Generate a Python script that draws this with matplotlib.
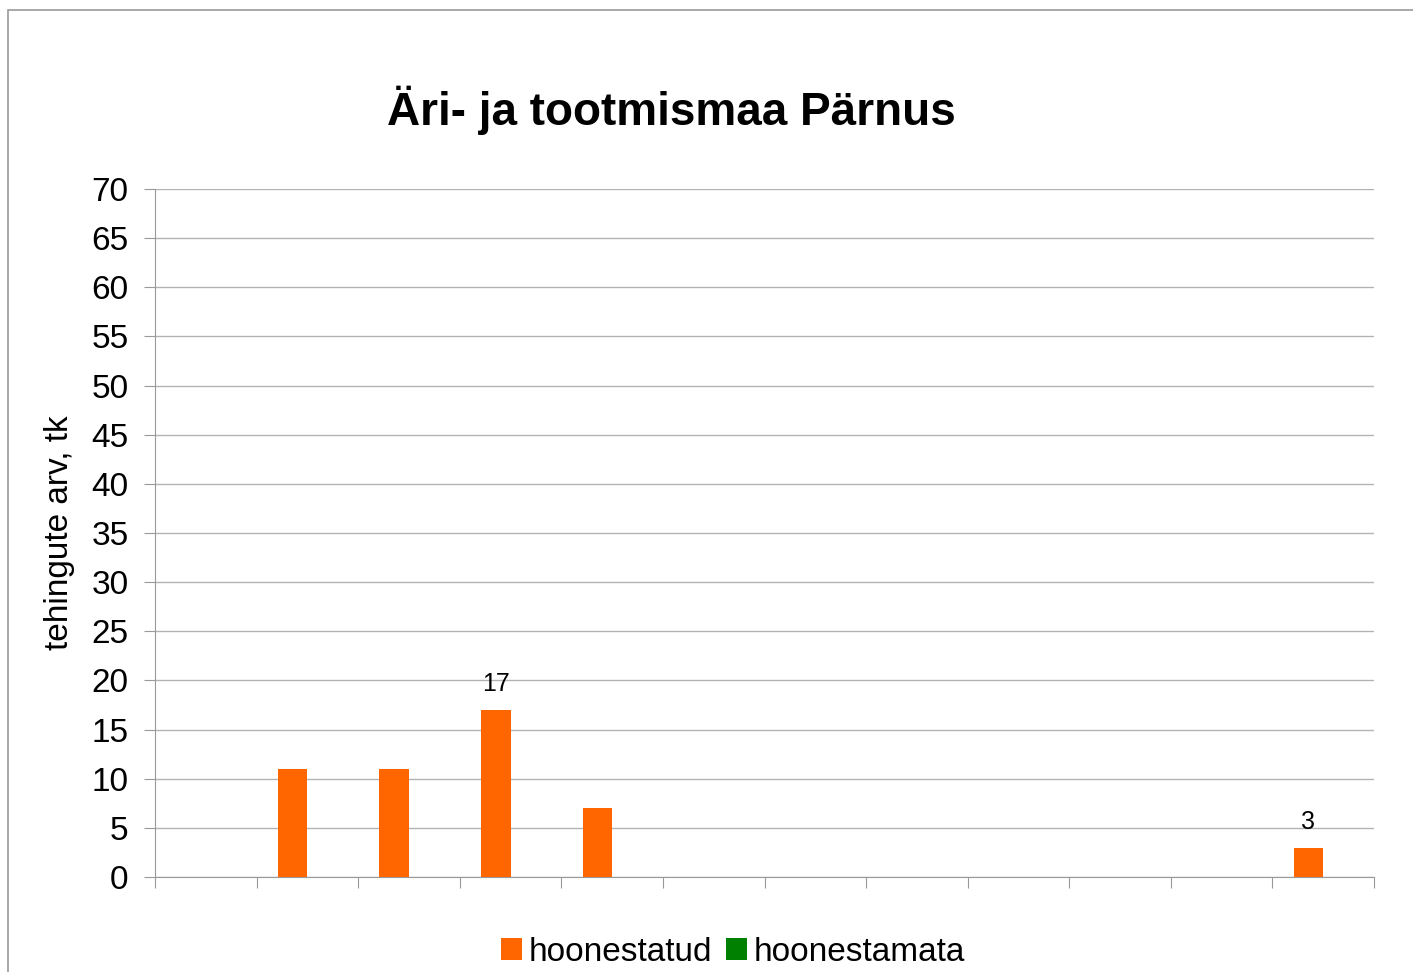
import matplotlib
matplotlib.use("Agg")
import matplotlib.pyplot as plt
import numpy as np
from matplotlib.patches import Rectangle

plt.rcParams['font.family'] = ['Liberation Sans', 'DejaVu Sans']

title = "Äri- ja tootmismaa Pärnus"
ylabel = "tehingute arv, tk"
categories = [str(i) for i in range(1, 13)]
series_names = ["hoonestatud", "hoonestamata"]
hoonestatud = [0, 11, 11, 17, 7, 0, 0, 0, 0, 0, 0, 3]
hoonestamata = [0, 0, 0, 0, 0, 0, 0, 0, 0, 0, 0, 0]
labeled = {3: "17", 11: "3"}
colors = ["#FF6600", "#008000"]

fig = plt.figure(figsize=(14.13, 9.72), dpi=100)
fig.patches.append(Rectangle((8/1413, -0.1), 1.2, (972-10)/972 + 0.1, transform=fig.transFigure,
                             fill=False, edgecolor="#999999", linewidth=1.2))
ax = fig.add_axes([155/1413, (972-877)/972, (1374-155)/1413, (877-189)/972])

x = np.arange(len(categories))
w = 0.29
ax.bar(x + 0.5 - w, hoonestatud, width=w, align='edge', color=colors[0], label=series_names[0], zorder=3)
ax.bar(x + 0.5, hoonestamata, width=w, align='edge', color=colors[1], label=series_names[1], zorder=3)

for i, t in labeled.items():
    ax.annotate(t, (x[i] + 0.5 - w/2, hoonestatud[i]), xytext=(0, 18.5), textcoords='offset points',
                ha='center', va='center', fontsize=18)

ax.set_xlim(0, len(categories))
ax.set_ylim(0, 70)
ax.set_yticks(np.arange(0, 71, 5))
ax.set_xticks(np.arange(0, len(categories) + 1))
ax.set_xticklabels([])
ax.tick_params(axis='y', length=8, color="#999999", labelsize=24, pad=11)
ax.tick_params(axis='x', length=8, color="#999999")
ax.grid(axis='y', color="#b3b3b3", linewidth=1, zorder=0)
ax.set_axisbelow(True)
for s in ['top', 'right']:
    ax.spines[s].set_visible(False)
for s in ['left', 'bottom']:
    ax.spines[s].set_color("#999999")
ax.set_ylabel(ylabel, fontsize=24, labelpad=12)

fig.text(671/1413, 1 - 110/972, title, ha='center', va='center', fontsize=33, fontweight='bold')

fig.legend(loc='center', bbox_to_anchor=(733/1413, 1 - 952/972), ncol=2, frameon=False, fontsize=24,
           handlelength=0.65, handleheight=0.65, handletextpad=0.2, columnspacing=0.4)

fig.savefig("out.png", dpi=100)
